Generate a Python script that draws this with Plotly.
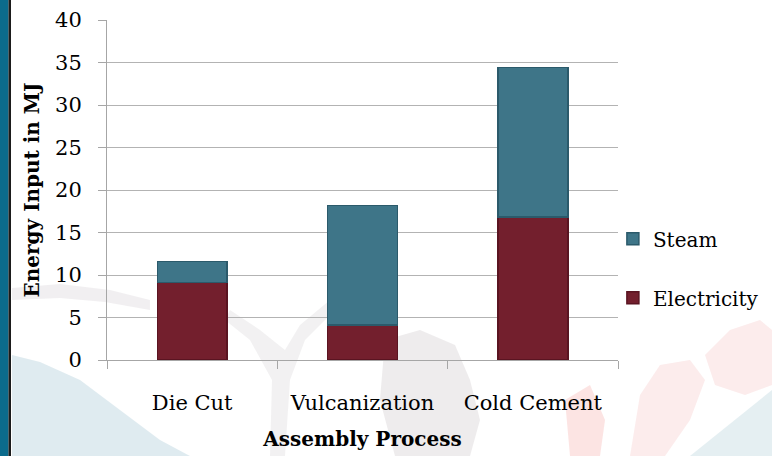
import plotly.graph_objects as go

# Energy input per assembly process (MJ)
processes = ["Die Cut", "Vulcanization", "Cold Cement"]
electricity = [9.1, 4.1, 16.8]
steam = [2.5, 14.1, 17.6]
y_ticks = [0, 5, 10, 15, 20, 25, 30, 35, 40]

FONT = "DejaVu Serif"
STEAM_FILL, STEAM_LINE = "#3e7588", "#2b5a6b"
ELEC_FILL, ELEC_LINE = "#731f2d", "#5a1421"

W, H = 772, 456
L, R, T, B = 107, 154, 20, 96
PW, PH = W - L - R, H - T - B


def px(x):
    return (x - L) / PW


def py(y):
    return (H - B - y) / PH


def path(points, close=True):
    s = "M " + " L ".join(f"{px(x):.4f},{py(y):.4f}" for x, y in points)
    return s + (" Z" if close else "")


fig = go.Figure()
fig.add_trace(go.Bar(
    x=processes, y=electricity, name="Electricity", legendgroup="e", legendrank=2,
    marker=dict(color=ELEC_FILL, line=dict(color=ELEC_LINE, width=1.5)),
    width=0.41,
))
fig.add_trace(go.Bar(
    x=processes, y=steam, name="Steam", legendgroup="s", legendrank=1,
    marker=dict(color=STEAM_FILL, line=dict(color=STEAM_LINE, width=1.5)),
    width=0.41,
))

shapes = []
# faint backdrop artwork
shapes.append(dict(type="path", layer="below", line_width=0, fillcolor="rgba(150,190,205,0.30)",
                   path=path([(12, 355), (40, 362), (80, 380), (120, 410), (160, 440), (190, 456), (12, 456)])))
shapes.append(dict(type="path", layer="below", line_width=0, fillcolor="rgba(150,190,205,0.25)",
                   path=path([(690, 456), (772, 390), (772, 456)])))
shapes.append(dict(type="path", layer="below", line_width=0, fillcolor="rgba(185,175,185,0.20)",
                   path=path([(12, 288), (60, 284), (110, 290), (150, 300), (150, 310), (105, 302), (60, 298), (12, 300)])))
shapes.append(dict(type="path", layer="below", line_width=0, fillcolor="rgba(185,175,185,0.18)",
                   path=path([(230, 310), (260, 330), (285, 350), (300, 325), (330, 300), (335, 310), (305, 340), (290, 380), (285, 456), (270, 456), (272, 380), (250, 340), (225, 320)])))
shapes.append(dict(type="path", layer="below", line_width=0, fillcolor="rgba(150,135,145,0.16)",
                   path=path([(385, 340), (420, 330), (455, 345), (470, 380), (480, 420), (470, 456), (395, 456), (380, 400)])))
shapes.append(dict(type="path", layer="below", line_width=0, fillcolor="rgba(235,120,120,0.14)",
                   path=path([(640, 395), (660, 365), (690, 360), (705, 380), (690, 420), (665, 456), (630, 456)])))
shapes.append(dict(type="path", layer="below", line_width=0, fillcolor="rgba(235,120,120,0.14)",
                   path=path([(705, 355), (730, 330), (760, 320), (772, 330), (772, 385), (745, 395), (715, 385)])))
shapes.append(dict(type="path", layer="below", line_width=0, fillcolor="rgba(235,90,80,0.16)",
                   path=path([(565, 400), (590, 385), (605, 420), (600, 456), (570, 456)])))
# left frame strip
shapes.append(dict(type="rect", layer="above", line_width=0,
                   x0=px(0), x1=px(8.5), y0=py(H), y1=py(0), fillcolor="#0b6b8c"))
shapes.append(dict(type="rect", layer="above", line_width=0,
                   x0=px(8.5), x1=px(11), y0=py(H), y1=py(0), fillcolor="#1b1b1b"))
for s in shapes:
    s.setdefault("xref", "paper")
    s.setdefault("yref", "paper")

fig.update_layout(
    width=W, height=H,
    margin=dict(l=L, r=R, t=T, b=B, autoexpand=False),
    barmode="stack",
    paper_bgcolor="white",
    plot_bgcolor="rgba(0,0,0,0)",
    font=dict(family=FONT, size=21, color="black"),
    shapes=shapes,
    showlegend=True,
    legend=dict(
        x=0.99, xanchor="left", y=0.27, yanchor="middle",
        traceorder="grouped", tracegroupgap=30,
        font=dict(family=FONT, size=20),
        bgcolor="rgba(0,0,0,0)", itemwidth=30,
    ),
    xaxis=dict(
        showline=True, linecolor="#a6a6a6", linewidth=1,
        ticks="outside", tickson="boundaries", ticklen=8, tickcolor="#a6a6a6",
        tickfont=dict(size=21),
        ticklabelstandoff=24,
        title=dict(text="<b>Assembly Process</b>", font=dict(size=20), standoff=17),
    ),
    yaxis=dict(
        range=[0, 40], tickvals=y_ticks,
        showline=True, linecolor="#a6a6a6", linewidth=1,
        ticks="outside", ticklen=8, tickcolor="#a6a6a6",
        showgrid=True, gridcolor="#b3b3b3", gridwidth=1,
        zeroline=False,
        tickfont=dict(size=21),
        ticklabelstandoff=12,
        title=dict(text="<b>Energy Input in MJ</b>", font=dict(size=20), standoff=10),
    ),
)

fig.write_html("out.html")
